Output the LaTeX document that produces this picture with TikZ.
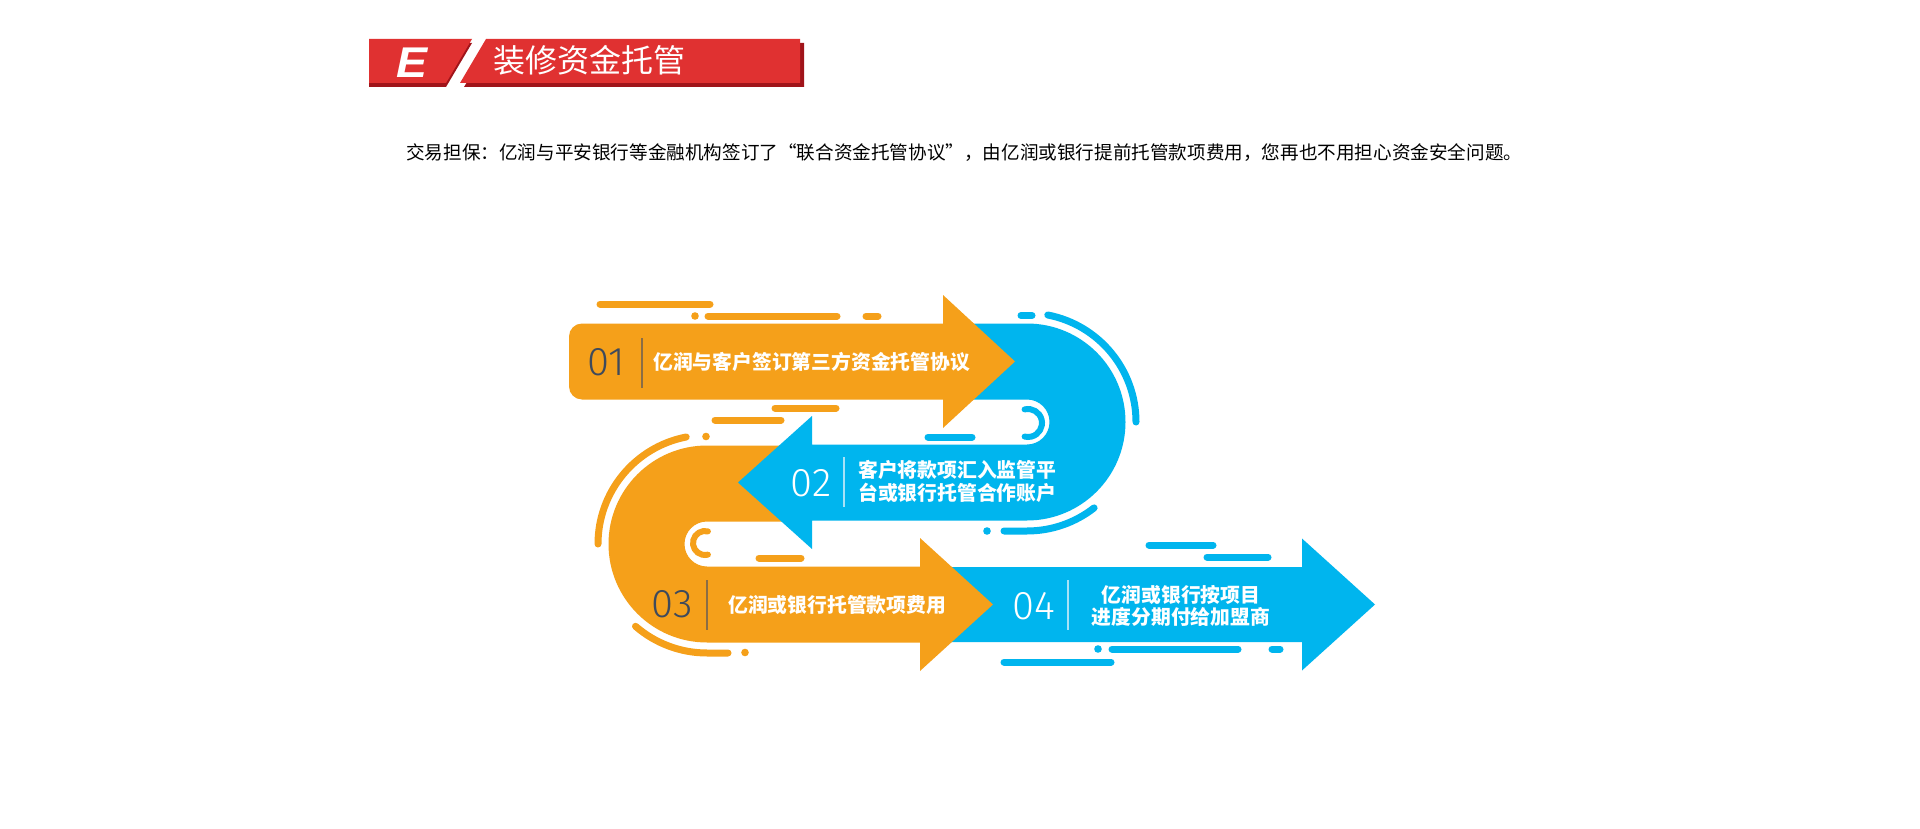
\documentclass[tikz,border=0pt]{standalone}
\usepackage{fontspec}
\setmainfont{Liberation Sans}
\newfontfamily\cjk{Noto Sans CJK SC}
\newfontfamily\numfont{Fira Sans Light}
\newfontfamily\efont{Liberation Sans}
\definecolor{org}{HTML}{F5A01A}
\definecolor{blu}{HTML}{00B5EE}
\definecolor{bred}{HTML}{E03131}
\definecolor{bdark}{HTML}{A0141A}
\definecolor{numgray}{HTML}{3E4A5C}
\definecolor{divo}{HTML}{8A6D45}
\definecolor{divb}{HTML}{A8E2F7}
\begin{document}
\begin{tikzpicture}[x=1pt,y=-1pt,
  odeco/.style={draw=org,line width=7pt,line cap=round},
  bdeco/.style={draw=blu,line width=7pt,line cap=round},
  steptext/.style={inner sep=0,text=white,font=\cjk\bfseries\fontsize{19.8}{22.5}\selectfont},
  numtext/.style={inner sep=0,anchor=base,font=\numfont\fontsize{40}{40}\selectfont},
  divline/.style={line width=1.5pt}]
\useasboundingbox[fill=white] (0,0) rectangle (1920,829);

% ---- header badge ----
\fill[bdark] (369,43) -- (472,43) -- (446,87) -- (369,87) -- cycle;
\fill[bdark] (491,43) -- (804,43) -- (804,87) -- (464,87) -- cycle;
\fill[bred] (369,39) -- (472,39) -- (446,83) -- (369,83) -- cycle;
\fill[bred] (486,39) -- (800,39) -- (800,83) -- (460,83) -- cycle;
\node[anchor=base,inner sep=0,text=white,font=\efont\bfseries\itshape\fontsize{43}{43}\selectfont,xscale=1.08] (elet) at (412,78) {E};
\node[anchor=base west,inner sep=0,text=white,font=\cjk\fontsize{32}{34}\selectfont] (title) at (493,73) {装修资金托管};

% ---- subtitle ----
\node[anchor=base west,inner sep=0,font=\cjk\fontsize{18.6}{20}\selectfont] (sub) at (406,160) {交易担保：亿润与平安银行等金融机构签订了“联合资金托管协议”，由亿润或银行提前托管款项费用，您再也不用担心资金安全问题。};

% ---- arrow 04 (blue, bottom) ----
\fill[blu] (930,567) -- (1302,567) -- (1302,538.5) -- (1375,604.5) -- (1302,670.5) -- (1302,642) -- (930,642) -- cycle;

% ---- orange U with arrow 03 ----
\fill[org] (800,445.5) -- (707,445.5) arc[start angle=270,end angle=90,radius=98.5]
  -- (920,642.5) -- (920,671) -- (993,604.5) -- (920,538) -- (920,566.5)
  -- (707,566.5) arc[start angle=90,end angle=270,radius=22.5] -- (800,521.5) -- cycle;

% ---- blue U with arrow 02 ----
\fill[blu] (960,323.5) -- (1027,323.5) arc[start angle=270,end angle=450,radius=98.5]
  -- (812,520.5) -- (812,549) -- (738,482.5) -- (812,416) -- (812,444.5)
  -- (1027,444.5) arc[start angle=90,end angle=-90,radius=22.5] -- (960,399.5) -- cycle;

% ---- arrow 01 (orange, top) ----
\fill[org] (943,323.5) -- (582,323.5) arc[start angle=270,end angle=180,radius=13]
  -- (569,386.5) arc[start angle=180,end angle=90,radius=13]
  -- (943,399.5) -- (943,428) -- (1015,361.5) -- (943,295) -- cycle;

% ---- orange decorations ----
\draw[odeco] (600,304) -- (710,304);
\fill[org] (695,316) circle (3.8);
\draw[odeco] (708,316) -- (837,316);
\draw[odeco] (866,316) -- (878,316);
\draw[odeco] (775,408) -- (836,408);
\draw[odeco] (715,420) -- (781,420);
\draw[odeco] (707,544) ++(180:109) arc[start angle=180,end angle=259,radius=109];
\fill[org] (706,436.5) circle (3.8);
\draw[odeco] (707,544) ++(131:109) arc[start angle=131,end angle=90,radius=109] -- (728,653);
\fill[org] (745,652.5) circle (3.8);
\draw[draw=org,line width=6pt,line cap=round] (705,543) ++(284:12) arc[start angle=284,end angle=76,radius=12];
\draw[odeco] (759,558) -- (801,558);

% ---- blue decorations ----
\draw[bdeco] (1021,315.5) -- (1032,315.5);
\draw[bdeco] (1027,422) ++(281:109) arc[start angle=281,end angle=360,radius=109];
\draw[bdeco] (1027,422) ++(52:109) arc[start angle=52,end angle=90,radius=109] -- (1004,531);
\fill[blu] (987,531) circle (3.8);
\draw[draw=blu,line width=6pt,line cap=round] (1028,423) ++(256:14) arc[start angle=256,end angle=464,radius=14];
\draw[bdeco] (928,437) -- (972,437);
\draw[bdeco] (1149,545) -- (1213,545);
\draw[bdeco] (1207,557) -- (1268,557);
\fill[blu] (1098,649) circle (3.8);
\draw[bdeco] (1112,649) -- (1238,649);
\draw[bdeco] (1272,649) -- (1280,649);
\draw[bdeco] (1004,662) -- (1111,662);

% ---- step 01 ----
\node[numtext,text=numgray] (n1) at (606,375.5) {01};
\draw[divline,draw=divo] (642,338) -- (642,388);
\node[steptext,anchor=base west] (t1) at (653,369.5) {亿润与客户签订第三方资金托管协议};

% ---- step 02 ----
\node[numtext,text=white] (n2) at (811,496.5) {02};
\draw[divline,draw=divb] (844,457) -- (844,507);
\node[steptext,anchor=base west] (t2a) at (858,477.5) {客户将款项汇入监管平};
\node[steptext,anchor=base west] (t2b) at (858,500.5) {台或银行托管合作账户};

% ---- step 03 ----
\node[numtext,text=numgray] (n3) at (672,617) {03};
\draw[divline,draw=divo] (707,580) -- (707,630);
\node[steptext,anchor=base west] (t3) at (728,612.5) {亿润或银行托管款项费用};

% ---- step 04 ----
\node[numtext,text=white] (n4) at (1034,619) {04};
\draw[divline,draw=divb] (1068,580) -- (1068,630);
\node[steptext,anchor=base] (t4a) at (1181,602.5) {亿润或银行按项目};
\node[steptext,anchor=base] (t4b) at (1181,624.5) {进度分期付给加盟商};
\end{tikzpicture}
\end{document}
